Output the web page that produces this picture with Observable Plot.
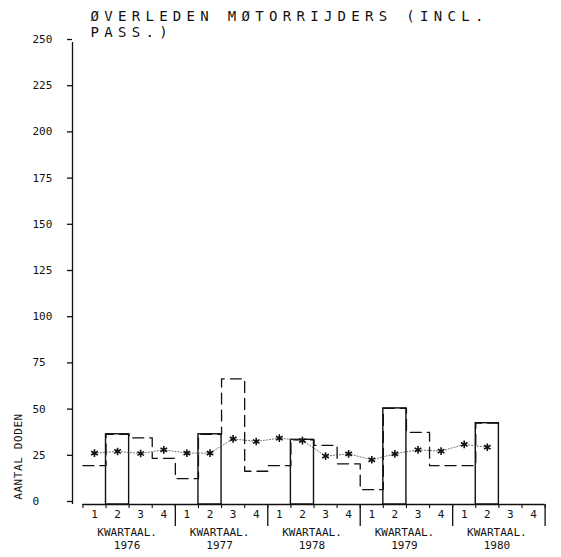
<!DOCTYPE html>
<html><head><meta charset="utf-8">
<script src="https://cdn.jsdelivr.net/npm/d3@7"></script>
<script src="https://cdn.jsdelivr.net/npm/@observablehq/plot@0.6"></script>
<style>body{margin:0;background:#fff}</style>
</head><body><div id="chart"></div>
<script>
// ---- data ----
const years = [1976, 1977, 1978, 1979, 1980];
const quarterLabels = ["1", "2", "3", "4"];
const deaths = [21, 38, 36, 25,  14, 38, 68, 18,  21, 35, 32, 22,  8, 52, 39, 21,  21, 44, null, null];
const trend  = [27.8, 28.7, 27.6, 29.6,  27.8, 27.8, 35.5, 34.1,  35.9, 34.6, 26.2, 27.4,  24.2, 27.4, 29.6, 28.9,  32.5, 31.0];
const yTicks = [0, 25, 50, 75, 100, 125, 150, 175, 200, 225, 250];
const titleLines = ["ØVERLEDEN MØTORRIJDERS (INCL.", "PASS.)"];
const yLabel = "AANTAL DODEN";
const xLabel = "KWARTAAL.";
const highlightQuarter = 2;

// ---- derived tables ----
const nQ = years.length * 4;
const rows = deaths.map((v, i) => ({i, year: years[Math.floor(i / 4)], q: (i % 4) + 1, v}));
const valued = rows.filter(d => d.v != null);
const stepData = valued.map(d => ({x: d.i, y: d.v}));
stepData.push({x: valued[valued.length - 1].i + 1, y: valued[valued.length - 1].v});
const trendRows = trend.map((t, i) => ({x: i + 0.5, y: t}));
const boundaries = d3.range(nQ + 1);
const yearBounds = d3.range(1, years.length + 1).map(k => k * 4);
const qCenters = d3.range(nQ).map(i => i + 0.5);
const yearCenters = years.map((y, k) => k * 4 + 2);
const xMin = -0.45;
const yMax = d3.max(yTicks);
const ink = "#111";
const font = "DejaVu Sans Mono, monospace";

const chart = Plot.plot({
  width: 561, height: 557,
  marginLeft: 72, marginRight: 16.4, marginTop: 42, marginBottom: 53,
  style: {fontFamily: font, fontSize: "11px", color: ink, background: "#fff"},
  x: {type: "linear", domain: [xMin, nQ], label: null},
  y: {domain: [0, yMax], label: null},
  marks: [
    // y axis line + ticks
    Plot.ruleX([xMin], {y1: 0, y2: yMax, stroke: ink, strokeWidth: 1.3}),
    Plot.axisY(yTicks, {tickSize: 5, tickPadding: 35, textAnchor: "start", dy: -3, label: null, stroke: ink, strokeWidth: 1.3, fill: ink}),
    // x axis
    Plot.ruleY([0], {x1: 0, x2: nQ, stroke: ink, strokeWidth: 1.3}),
    Plot.axisX(boundaries, {tickSize: 4, tickFormat: () => "", label: null, stroke: ink, strokeWidth: 1.1}),
    Plot.axisX(yearBounds, {tickSize: 22, tickFormat: () => "", label: null, stroke: ink, strokeWidth: 1.3}),
    Plot.axisX(qCenters, {tickSize: 0, tickPadding: 6, tickFormat: x => quarterLabels[Math.floor(x) % 4], label: null, fill: ink}),
    Plot.axisX(yearCenters, {tickSize: 0, tickPadding: 23, dx: -2, lineHeight: 1.12,
      tickFormat: x => xLabel + "\n" + years[Math.floor(x / 4)], label: null, fill: ink}),
    // highlighted quarter bars
    Plot.rectY(rows.filter(d => d.q === highlightQuarter && d.v != null),
      {x1: "i", x2: d => d.i + 1, y: "v", fill: "none", stroke: ink, strokeWidth: 1.4}),
    // dashed step outline of all quarters
    Plot.line(stepData, {x: "x", y: "y", curve: "step-after", stroke: ink, strokeWidth: 1.3, strokeDasharray: "11,6"}),
    // trend line with stars
    Plot.line(trendRows, {x: "x", y: "y", stroke: "#444", strokeWidth: 0.8, strokeDasharray: "1,2"}),
    Plot.dot(trendRows, {x: "x", y: "y", symbol: "asterisk", r: 3.6, stroke: ink, strokeWidth: 1.6}),
    // title (two lines)
    Plot.text([titleLines[0]], {frameAnchor: "top-left", dx: 18, dy: -26, lineAnchor: "middle",
      textAnchor: "start", fontSize: 14, fill: ink}),
    Plot.text([titleLines[1]], {frameAnchor: "top-left", dx: 18, dy: -10, lineAnchor: "middle",
      textAnchor: "start", fontSize: 14, fill: ink}),
    // y label
    Plot.text([yLabel], {frameAnchor: "bottom-left", dx: -54, dy: -48, rotate: -90, textAnchor: "middle",
      lineAnchor: "middle", fontSize: 11, fill: ink})
  ]
});
d3.select(chart).selectAll("text")
  .filter(function() { return titleLines.includes(this.textContent); })
  .attr("letter-spacing", 5.3);
d3.select(chart).selectAll("text")
  .filter(function() { return this.textContent === yLabel; })
  .attr("letter-spacing", 0.6);
document.getElementById("chart").appendChild(chart);
</script>
</body></html>
